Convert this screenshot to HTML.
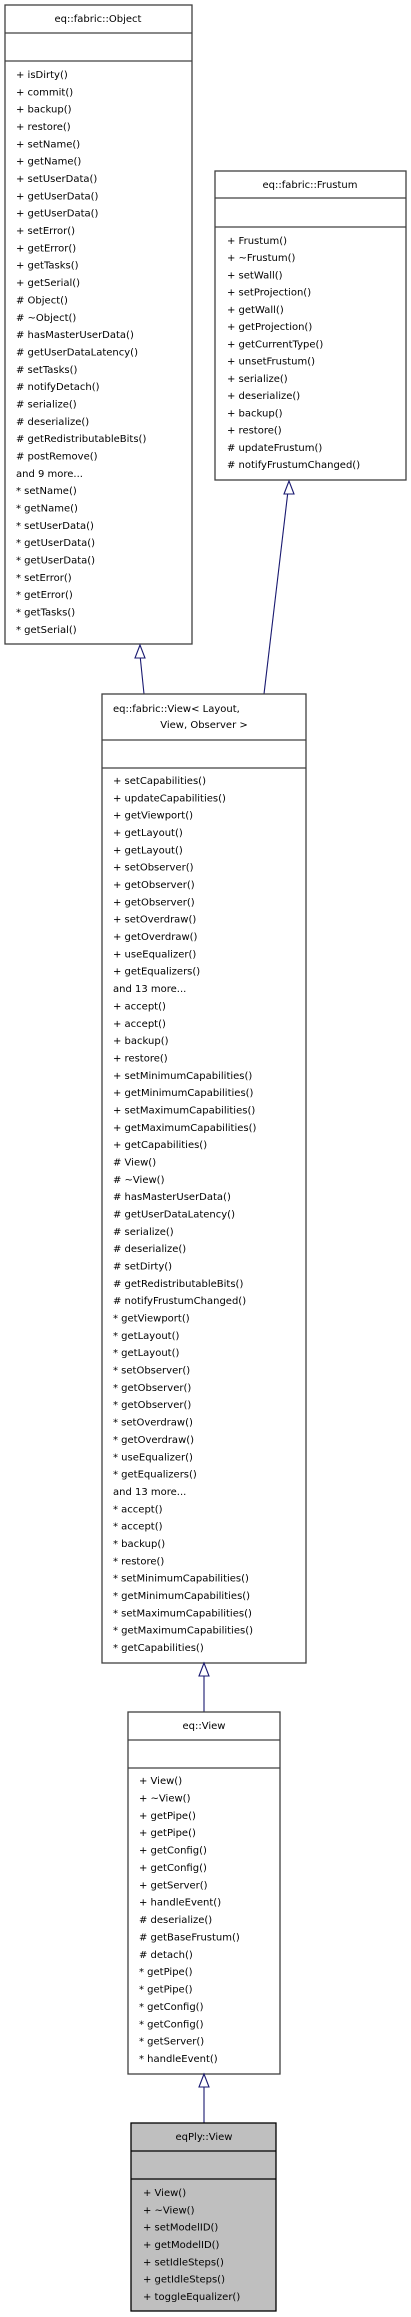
<!DOCTYPE html>
<html><head><meta charset="utf-8"><style>
html,body{margin:0;padding:0;background:#fff;}
svg{display:block;}
text{font-family:"DejaVu Sans","Liberation Sans",sans-serif;font-size:10px;fill:#000;}
.b{fill:#fff;stroke:#404040;stroke-width:1.3;}
.g{fill:#bfbfbf;stroke:#000;stroke-width:1.3;}
.l{stroke:#404040;stroke-width:1.3;}
.e{stroke:#191970;stroke-width:1.1;fill:none;}
.a{stroke:#191970;stroke-width:1.1;fill:#fff;}
</style></head><body>
<svg width="411" height="2317" viewBox="0 0 411 2317" xmlns="http://www.w3.org/2000/svg">
<!-- Object -->
<rect class="b" x="5" y="5" width="187" height="639"/>
<line class="l" x1="5" y1="33" x2="192" y2="33"/>
<line class="l" x1="5" y1="61" x2="192" y2="61"/>
<text x="98" y="22" text-anchor="middle">eq::fabric::Object</text>
<text x="16" y="78"><tspan x="16">+ isDirty()</tspan><tspan x="16" dy="17.34">+ commit()</tspan><tspan x="16" dy="17.34">+ backup()</tspan><tspan x="16" dy="17.34">+ restore()</tspan><tspan x="16" dy="17.34">+ setName()</tspan><tspan x="16" dy="17.34">+ getName()</tspan><tspan x="16" dy="17.34">+ setUserData()</tspan><tspan x="16" dy="17.34">+ getUserData()</tspan><tspan x="16" dy="17.34">+ getUserData()</tspan><tspan x="16" dy="17.34">+ setError()</tspan><tspan x="16" dy="17.34">+ getError()</tspan><tspan x="16" dy="17.34">+ getTasks()</tspan><tspan x="16" dy="17.34">+ getSerial()</tspan><tspan x="16" dy="17.34"># Object()</tspan><tspan x="16" dy="17.34"># ~Object()</tspan><tspan x="16" dy="17.34"># hasMasterUserData()</tspan><tspan x="16" dy="17.34"># getUserDataLatency()</tspan><tspan x="16" dy="17.34"># setTasks()</tspan><tspan x="16" dy="17.34"># notifyDetach()</tspan><tspan x="16" dy="17.34"># serialize()</tspan><tspan x="16" dy="17.34"># deserialize()</tspan><tspan x="16" dy="17.34"># getRedistributableBits()</tspan><tspan x="16" dy="17.34"># postRemove()</tspan><tspan x="16" dy="17.34">and 9 more...</tspan><tspan x="16" dy="17.34">* setName()</tspan><tspan x="16" dy="17.34">* getName()</tspan><tspan x="16" dy="17.34">* setUserData()</tspan><tspan x="16" dy="17.34">* getUserData()</tspan><tspan x="16" dy="17.34">* getUserData()</tspan><tspan x="16" dy="17.34">* setError()</tspan><tspan x="16" dy="17.34">* getError()</tspan><tspan x="16" dy="17.34">* getTasks()</tspan><tspan x="16" dy="17.34">* getSerial()</tspan></text>
<!-- Frustum -->
<rect class="b" x="215" y="171" width="191" height="309"/>
<line class="l" x1="215" y1="198" x2="406" y2="198"/>
<line class="l" x1="215" y1="227" x2="406" y2="227"/>
<text x="310" y="188" text-anchor="middle">eq::fabric::Frustum</text>
<text x="227" y="244"><tspan x="227">+ Frustum()</tspan><tspan x="227" dy="17.23">+ ~Frustum()</tspan><tspan x="227" dy="17.23">+ setWall()</tspan><tspan x="227" dy="17.23">+ setProjection()</tspan><tspan x="227" dy="17.23">+ getWall()</tspan><tspan x="227" dy="17.23">+ getProjection()</tspan><tspan x="227" dy="17.23">+ getCurrentType()</tspan><tspan x="227" dy="17.23">+ unsetFrustum()</tspan><tspan x="227" dy="17.23">+ serialize()</tspan><tspan x="227" dy="17.23">+ deserialize()</tspan><tspan x="227" dy="17.23">+ backup()</tspan><tspan x="227" dy="17.23">+ restore()</tspan><tspan x="227" dy="17.23"># updateFrustum()</tspan><tspan x="227" dy="17.23"># notifyFrustumChanged()</tspan></text>
<!-- edges to View template -->
<path class="e" d="M144,694 L140,655"/>
<polygon class="a" points="140,645 135,658 145,658"/>
<path class="e" d="M264,694 L288,491"/>
<polygon class="a" points="289,481 284,494 294,494"/>
<!-- fabric::View -->
<rect class="b" x="102" y="694" width="204" height="969"/>
<line class="l" x1="102" y1="740" x2="306" y2="740"/>
<line class="l" x1="102" y1="768" x2="306" y2="768"/>
<text x="113" y="712">eq::fabric::View&lt; Layout,</text>
<text x="204" y="728" text-anchor="middle">View, Observer &gt;</text>
<text x="113" y="784"><tspan x="113">+ setCapabilities()</tspan><tspan x="113" dy="17.34">+ updateCapabilities()</tspan><tspan x="113" dy="17.34">+ getViewport()</tspan><tspan x="113" dy="17.34">+ getLayout()</tspan><tspan x="113" dy="17.34">+ getLayout()</tspan><tspan x="113" dy="17.34">+ setObserver()</tspan><tspan x="113" dy="17.34">+ getObserver()</tspan><tspan x="113" dy="17.34">+ getObserver()</tspan><tspan x="113" dy="17.34">+ setOverdraw()</tspan><tspan x="113" dy="17.34">+ getOverdraw()</tspan><tspan x="113" dy="17.34">+ useEqualizer()</tspan><tspan x="113" dy="17.34">+ getEqualizers()</tspan><tspan x="113" dy="17.34">and 13 more...</tspan><tspan x="113" dy="17.34">+ accept()</tspan><tspan x="113" dy="17.34">+ accept()</tspan><tspan x="113" dy="17.34">+ backup()</tspan><tspan x="113" dy="17.34">+ restore()</tspan><tspan x="113" dy="17.34">+ setMinimumCapabilities()</tspan><tspan x="113" dy="17.34">+ getMinimumCapabilities()</tspan><tspan x="113" dy="17.34">+ setMaximumCapabilities()</tspan><tspan x="113" dy="17.34">+ getMaximumCapabilities()</tspan><tspan x="113" dy="17.34">+ getCapabilities()</tspan><tspan x="113" dy="17.34"># View()</tspan><tspan x="113" dy="17.34"># ~View()</tspan><tspan x="113" dy="17.34"># hasMasterUserData()</tspan><tspan x="113" dy="17.34"># getUserDataLatency()</tspan><tspan x="113" dy="17.34"># serialize()</tspan><tspan x="113" dy="17.34"># deserialize()</tspan><tspan x="113" dy="17.34"># setDirty()</tspan><tspan x="113" dy="17.34"># getRedistributableBits()</tspan><tspan x="113" dy="17.34"># notifyFrustumChanged()</tspan><tspan x="113" dy="17.34">* getViewport()</tspan><tspan x="113" dy="17.34">* getLayout()</tspan><tspan x="113" dy="17.34">* getLayout()</tspan><tspan x="113" dy="17.34">* setObserver()</tspan><tspan x="113" dy="17.34">* getObserver()</tspan><tspan x="113" dy="17.34">* getObserver()</tspan><tspan x="113" dy="17.34">* setOverdraw()</tspan><tspan x="113" dy="17.34">* getOverdraw()</tspan><tspan x="113" dy="17.34">* useEqualizer()</tspan><tspan x="113" dy="17.34">* getEqualizers()</tspan><tspan x="113" dy="17.34">and 13 more...</tspan><tspan x="113" dy="17.34">* accept()</tspan><tspan x="113" dy="17.34">* accept()</tspan><tspan x="113" dy="17.34">* backup()</tspan><tspan x="113" dy="17.34">* restore()</tspan><tspan x="113" dy="17.34">* setMinimumCapabilities()</tspan><tspan x="113" dy="17.34">* getMinimumCapabilities()</tspan><tspan x="113" dy="17.34">* setMaximumCapabilities()</tspan><tspan x="113" dy="17.34">* getMaximumCapabilities()</tspan><tspan x="113" dy="17.34">* getCapabilities()</tspan></text>
<!-- edge to eq::View -->
<path class="e" d="M204,1712 L204,1676"/>
<polygon class="a" points="204,1663 199,1676 209,1676"/>
<!-- eq::View -->
<rect class="b" x="128" y="1712" width="152" height="362"/>
<line class="l" x1="128" y1="1740" x2="280" y2="1740"/>
<line class="l" x1="128" y1="1768" x2="280" y2="1768"/>
<text x="204" y="1729" text-anchor="middle">eq::View</text>
<text x="139" y="1784"><tspan x="139">+ View()</tspan><tspan x="139" dy="17.38">+ ~View()</tspan><tspan x="139" dy="17.38">+ getPipe()</tspan><tspan x="139" dy="17.38">+ getPipe()</tspan><tspan x="139" dy="17.38">+ getConfig()</tspan><tspan x="139" dy="17.38">+ getConfig()</tspan><tspan x="139" dy="17.38">+ getServer()</tspan><tspan x="139" dy="17.38">+ handleEvent()</tspan><tspan x="139" dy="17.38"># deserialize()</tspan><tspan x="139" dy="17.38"># getBaseFrustum()</tspan><tspan x="139" dy="17.38"># detach()</tspan><tspan x="139" dy="17.38">* getPipe()</tspan><tspan x="139" dy="17.38">* getPipe()</tspan><tspan x="139" dy="17.38">* getConfig()</tspan><tspan x="139" dy="17.38">* getConfig()</tspan><tspan x="139" dy="17.38">* getServer()</tspan><tspan x="139" dy="17.38">* handleEvent()</tspan></text>
<!-- edge to eqPly::View -->
<path class="e" d="M204,2123 L204,2087"/>
<polygon class="a" points="204,2074 199,2087 209,2087"/>
<!-- eqPly::View -->
<rect class="g" x="131" y="2123" width="145" height="188"/>
<line class="l" x1="131" y1="2151" x2="276" y2="2151" style="stroke:#000"/>
<line class="l" x1="131" y1="2179" x2="276" y2="2179" style="stroke:#000"/>
<text x="204" y="2140" text-anchor="middle">eqPly::View</text>
<text x="143" y="2196"><tspan x="143">+ View()</tspan><tspan x="143" dy="17.33">+ ~View()</tspan><tspan x="143" dy="17.33">+ setModelID()</tspan><tspan x="143" dy="17.33">+ getModelID()</tspan><tspan x="143" dy="17.33">+ setIdleSteps()</tspan><tspan x="143" dy="17.33">+ getIdleSteps()</tspan><tspan x="143" dy="17.33">+ toggleEqualizer()</tspan></text>
</svg>
</body></html>
